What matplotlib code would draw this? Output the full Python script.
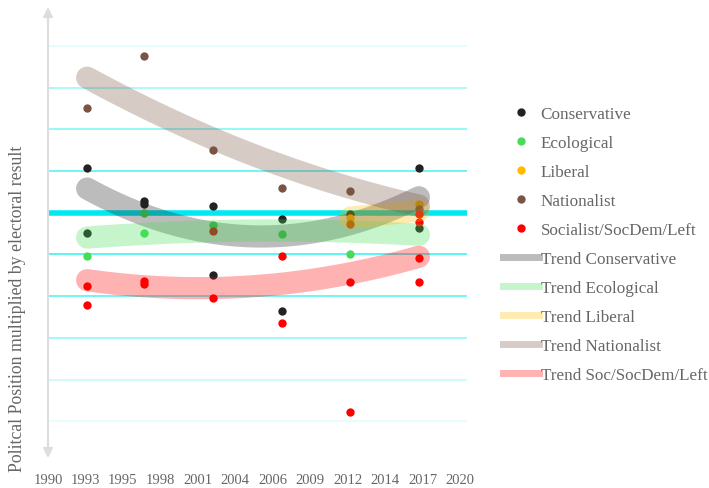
import numpy as np
import matplotlib.pyplot as plt
from matplotlib.lines import Line2D

plt.rcParams['font.family'] = ['Liberation Serif', 'DejaVu Serif']

# election data (position x electoral result)
cons_x = [1992.85, 1992.85, 1997, 1997, 2002, 2002, 2007, 2007, 2012, 2017, 2017]
cons_y = [1.06, -0.48, 0.27, 0.21, 0.17, -1.49, -0.14, -2.35, -0.02, 1.06, -0.36]

eco_x = [1992.85, 1997, 1997, 2002, 2007, 2012]
eco_y = [-1.03, 0.0, -0.48, -0.29, -0.50, -0.98]

lib_x = [2012, 2017]
lib_y = [-0.12, 0.22]

nat_x = [1992.85, 1997, 2002, 2007, 2012, 2017]
nat_y = [2.52, 3.76, 1.51, 0.60, 0.53, 0.10]

soc_x = [1992.85, 1992.85, 1997, 1997, 2002, 2002, 2007, 2007,
         2012, 2012, 2012, 2017, 2017, 2017, 2017]
soc_y = [-1.75, -2.21, -1.63, -1.70, -0.43, -2.04, -1.03, -2.64,
         -0.28, -1.66, -4.77, -0.02, -0.22, -1.08, -1.65]

# trend values read at each election
trend_x = [1992.85, 1997, 2002, 2007, 2012, 2017]
cons_trend = [0.50, 0.10, -0.52, -0.62, -0.25, 0.38]
eco_trend = [-0.60, -0.50, -0.45, -0.43, -0.45, -0.53]
lib_trend_x = [2012, 2017]
lib_trend = [-0.12, 0.05]
nat_trend = [3.18, 2.63, 1.76, 1.10, 0.58, 0.19]
soc_trend = [-1.62, -1.75, -1.82, -1.72, -1.42, -1.07]

names = ['Conservative', 'Ecological', 'Liberal', 'Nationalist', 'Socialist/SocDem/Left']
trend_names = ['Trend Conservative', 'Trend Ecological', 'Trend Liberal',
               'Trend Nationalist', 'Trend Soc/SocDem/Left']
colors = ['#222222', '#44dd55', '#ffbb00', '#7b5544', '#ff0000']

tick_pos = [1990 + i * 30 / 11 for i in range(12)]
tick_labels = ['1990', '1993', '1995', '1998', '2001', '2004', '2006',
               '2009', '2012', '2014', '2017', '2020']

series = [(cons_x, cons_y), (eco_x, eco_y), (lib_x, lib_y),
          (nat_x, nat_y), (soc_x, soc_y)]
trends = [(trend_x, cons_trend), (trend_x, eco_trend), (lib_trend_x, lib_trend),
          (trend_x, nat_trend), (trend_x, soc_trend)]

fig = plt.figure(figsize=(7.09, 4.89), dpi=100)
ax = fig.add_axes([48 / 709, 30 / 489, 419 / 709, 451 / 489])
ax.set_xlim(1990, 2020.5)
ax.set_ylim(-5.88, 4.93)

# cyan grid, strongest at zero
grid_alpha = {4: 0.12, 3: 0.35, 2: 0.45, 1: 0.6, -1: 0.7, -2: 0.6, -3: 0.4, -4: 0.2, -5: 0.1}
for lvl, a in grid_alpha.items():
    ax.axhline(lvl, color='#00eeee', lw=1.3, alpha=a, zorder=1)
ax.axhline(0, color='#00e8f0', lw=4, zorder=1)

for (xs, ys), c in zip(series, colors):
    ax.scatter(xs, ys, s=36, color=c, zorder=2, linewidths=0)

# smooth quadratic trend through the read values
for (xs, ys), c in zip(trends, colors):
    deg = min(2, len(xs) - 1)
    p = np.polyfit(xs, ys, deg)
    xx = np.linspace(xs[0], xs[-1], 120)
    ax.plot(xx, np.polyval(p, xx), color=c, alpha=0.3, lw=16,
            solid_capstyle='round', zorder=3)

for s in ax.spines.values():
    s.set_visible(False)
ax.set_yticks([])
ax.set_xticks(tick_pos)
ax.set_xticklabels(tick_labels)
ax.tick_params(axis='x', length=0, pad=11, labelsize=10.5, labelcolor='#666666')

ax.annotate('', xy=(1990, 4.93), xytext=(1990, -5.88), xycoords='data',
            arrowprops=dict(arrowstyle='<|-|>', color='#dddddd', lw=1.5,
                            mutation_scale=14, shrinkA=0, shrinkB=0),
            annotation_clip=False)

fig.text(18 / 709, 1 - 472 / 489, 'Politcal Position multiplied by electoral result',
         rotation=90, ha='center', va='bottom', fontsize=12.8, color='#666666')

handles = [Line2D([], [], ls='', marker='o', ms=6, color=c, mec='none') for c in colors]
handles += [Line2D([], [], color=c, alpha=0.3, lw=5) for c in colors]
fig.legend(handles, names + trend_names, loc='upper left',
           bbox_to_anchor=(503 / 709, 1 - 107 / 489), frameon=False,
           fontsize=12.3, handlelength=2.1, handletextpad=0.1, labelspacing=0.76,
           borderpad=0, borderaxespad=0, labelcolor='#666666')

fig.savefig('out.png', dpi=100)
